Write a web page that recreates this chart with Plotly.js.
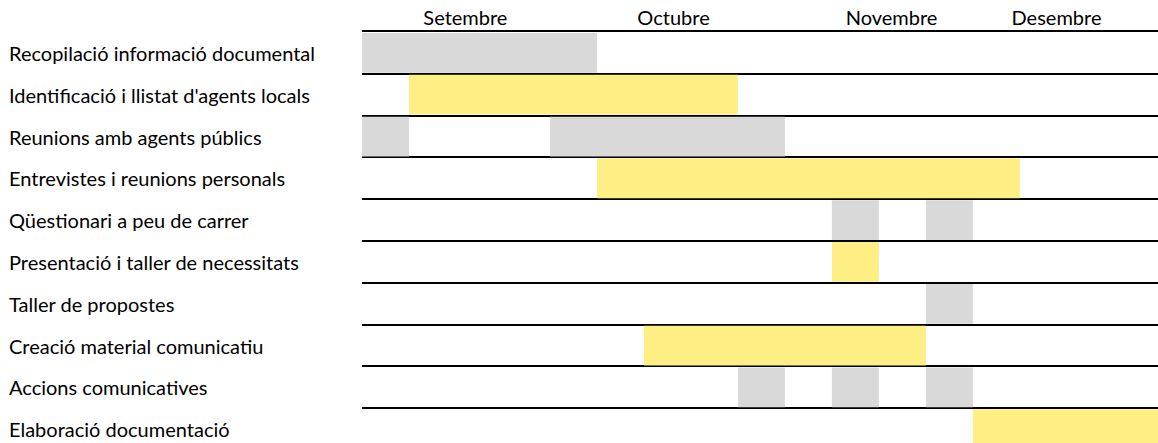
<!DOCTYPE html>
<html>
<head>
<meta charset="utf-8">
<script src="https://cdn.plot.ly/plotly-3.0.1.min.js"></script>
<style>html,body{margin:0;padding:0;background:#fff;overflow:hidden}</style>
</head>
<body>
<div id="chart" style="width:1158px;height:443px"></div>
<script>
// Tasks (rows, top to bottom)
const tasks = [
  "Recopilació informació documental",
  "Identificació i llistat d'agents locals",
  "Reunions amb agents públics",
  "Entrevistes i reunions personals",
  "Qüestionari a peu de carrer",
  "Presentació i taller de necessitats",
  "Taller de propostes",
  "Creació material comunicatiu",
  "Accions comunicatives",
  "Elaboració documentació"
];

// Grey segments (week index start / end)
const greyTask  = [tasks[0], tasks[2], tasks[2], tasks[4], tasks[4], tasks[6], tasks[8], tasks[8], tasks[8]];
const greyStart = [0, 0, 4, 10, 12, 12, 8, 10, 12];
const greyEnd   = [5, 1, 9, 11, 13, 13, 9, 11, 13];

// Yellow segments
const yellowTask  = [tasks[1], tasks[3], tasks[5], tasks[7], tasks[9]];
const yellowStart = [1, 5, 10, 6, 13];
const yellowEnd   = [8, 14, 11, 12, 17];

// Month header labels (position in weeks)
const monthNames = ["Setembre", "Octubre", "Novembre", "Desembre"];
const monthPos   = [2.2, 6.63, 11.27, 14.78];

const FONT = "Lato, 'Open Sans', sans-serif";
const diff = (a, b) => a.map((v, i) => v - b[i]);

const traces = [
  {type: "bar", orientation: "h", y: greyTask, base: greyStart, x: diff(greyEnd, greyStart),
   width: 0.95, marker: {color: "#D9D9D9", line: {width: 0}}, hoverinfo: "skip", showlegend: false},
  {type: "bar", orientation: "h", y: yellowTask, base: yellowStart, x: diff(yellowEnd, yellowStart),
   width: 0.95, marker: {color: "#FEEF85", line: {width: 0}}, hoverinfo: "skip", showlegend: false}
];

const annotations = tasks.map(t => ({
  text: t, xref: "paper", yref: "y", x: -355 / 796, y: t,
  xanchor: "left", yanchor: "middle", showarrow: false,
  font: {family: FONT, size: 20, color: "#000"}
}));

const layout = {
  width: 1158, height: 443,
  margin: {l: 362, r: 0, t: 32, b: 0, pad: 0},
  paper_bgcolor: "#fff", plot_bgcolor: "#fff",
  barmode: "overlay",
  xaxis: {
    side: "top", range: [0, 16.94], showgrid: false, zeroline: false,
    showline: true, linecolor: "#000", linewidth: 2,
    tickvals: monthPos, ticktext: monthNames, ticks: "", ticklabelstandoff: -3,
    tickfont: {family: FONT, size: 20, color: "#000"}, fixedrange: true
  },
  yaxis: {
    type: "category", categoryorder: "array", categoryarray: tasks,
    range: [9.33, -0.5], tickson: "boundaries", showgrid: true,
    gridcolor: "#000", gridwidth: 2, showticklabels: false, ticks: "",
    zeroline: false, showline: false, fixedrange: true
  },
  annotations: annotations
};

Plotly.newPlot("chart", traces, layout, {staticPlot: true, displayModeBar: false});
</script>
</body>
</html>
